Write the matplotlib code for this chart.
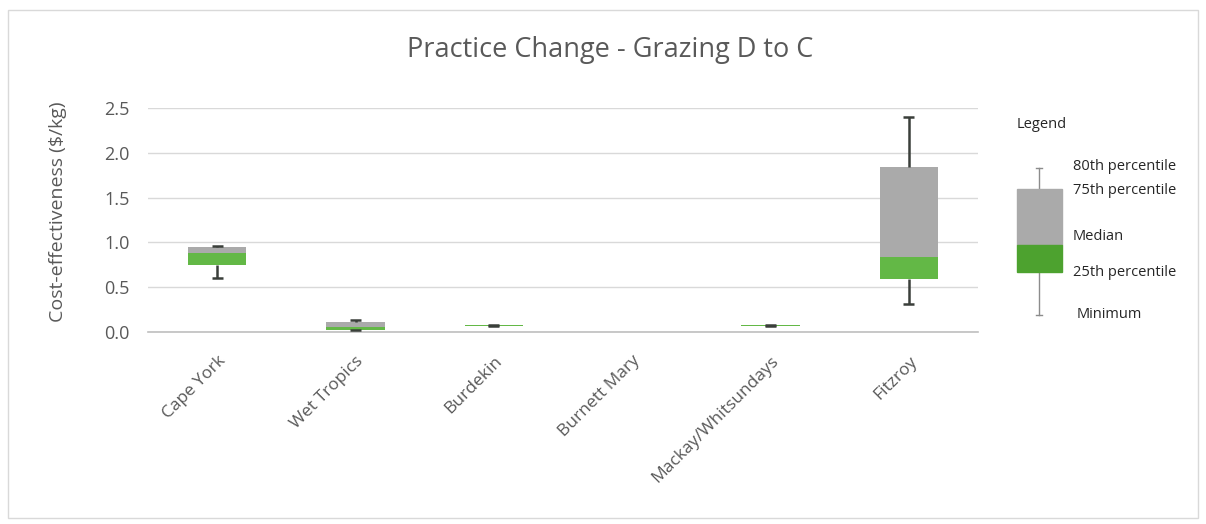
import numpy as np
import matplotlib.pyplot as plt
from matplotlib.patches import Rectangle

plt.rcParams['font.family'] = ['Open Sans', 'DejaVu Sans']

# box plot values ($/kg)
regions = ['Cape York', 'Wet Tropics', 'Burdekin', 'Burnett Mary',
           'Mackay/Whitsundays', 'Fitzroy']
minimum = [0.60, 0.02, 0.070, np.nan, 0.070, 0.31]
pct25 = [0.75, 0.02, 0.070, np.nan, 0.070, 0.59]
median = [0.88, 0.06, 0.075, np.nan, 0.075, 0.84]
pct75 = [0.95, 0.11, 0.080, np.nan, 0.080, 1.84]
pct80 = [0.96, 0.13, 0.080, np.nan, 0.080, 2.40]

yticks = [0.0, 0.5, 1.0, 1.5, 2.0, 2.5]

txt = '#595959'
green = '#63B846'
gray = '#AAAAAA'
whisk = '#3A3F3A'

W, H = 1206, 524
fig = plt.figure(figsize=(W / 100, H / 100), dpi=100)
ax = fig.add_axes([148 / W, 1 - 332 / H, (978 - 148) / W, (332 - 108) / H])

x = np.arange(len(regions))
lo = np.array(pct25)
md = np.array(median)
hi = np.array(pct75)
bw = 0.42

ax.bar(x, md - lo, bottom=lo, width=bw, color=green, zorder=3)
ax.bar(x, hi - md, bottom=md, width=bw, color=gray, zorder=3)
# whiskers
ax.vlines(x, hi, pct80, color=whisk, lw=1.8, zorder=4)
ax.vlines(x, minimum, lo, color=whisk, lw=1.8, zorder=4)
ax.hlines(pct80, x - 0.04, x + 0.04, color=whisk, lw=1.8, zorder=4)
ax.hlines(minimum, x - 0.04, x + 0.04, color=whisk, lw=1.8, zorder=4)

ax.set_xlim(-0.5, len(regions) - 0.5)
ax.set_ylim(0, 2.5)
ax.set_yticks(yticks)
ax.set_yticklabels([f'{v:.1f}' for v in yticks])
ax.grid(axis='y', color='#D9D9D9', lw=1, zorder=0)
ax.set_axisbelow(True)
for s in ['top', 'right', 'left']:
    ax.spines[s].set_visible(False)
ax.spines['bottom'].set_color('#BFBFBF')
ax.spines['bottom'].set_linewidth(1.2)
ax.tick_params(axis='both', length=0, colors=txt, labelsize=13)
ax.tick_params(axis='y', pad=13)
ax.set_xticks(x)
ax.set_xticklabels(regions, rotation=45, ha='right', rotation_mode='anchor',
                   fontsize=12.5, color=txt)
ax.tick_params(axis='x', pad=15)
ax.set_ylabel('Cost-effectiveness ($/kg)', fontsize=14, color=txt)
ax.yaxis.set_label_coords(-0.097, 0.535)

# overlay in pixel coords for title, legend graphic and frame
ov = fig.add_axes([0, 0, 1, 1], zorder=-1)
ov.set_xlim(0, W)
ov.set_ylim(H, 0)
ov.axis('off')
ov.add_patch(Rectangle((8, 10), 1190, 508, fill=False, ec='#D9D9D9', lw=1))

fig.text(610 / W, 1 - 50 / H, 'Practice Change - Grazing D to C',
         ha='center', va='center', fontsize=19.5, color=txt)

lg = fig.add_axes([0, 0, 1, 1], zorder=5)
lg.set_xlim(0, W)
lg.set_ylim(H, 0)
lg.axis('off')
lg.text(1017, 125, 'Legend', fontsize=10.5, color='#262626', va='center')
lg.plot([1039, 1039], [168, 315], color='#8C8C8C', lw=1)
lg.plot([1036, 1042], [168, 168], color='#8C8C8C', lw=1)
lg.plot([1036, 1042], [315, 315], color='#8C8C8C', lw=1)
lg.add_patch(Rectangle((1017, 189), 45, 56, color=gray, zorder=3))
lg.add_patch(Rectangle((1017, 245), 45, 27, color='#4DA22F', zorder=3))
for lab, yy, xx in [('80th percentile', 167, 1073), ('75th percentile', 190, 1073),
                    ('Median', 236, 1073), ('25th percentile', 272, 1073),
                    ('Minimum', 315, 1077)]:
    lg.text(xx, yy, lab, fontsize=10.5, color='#262626', va='center')

fig.savefig('out.png', dpi=100, facecolor='white')
